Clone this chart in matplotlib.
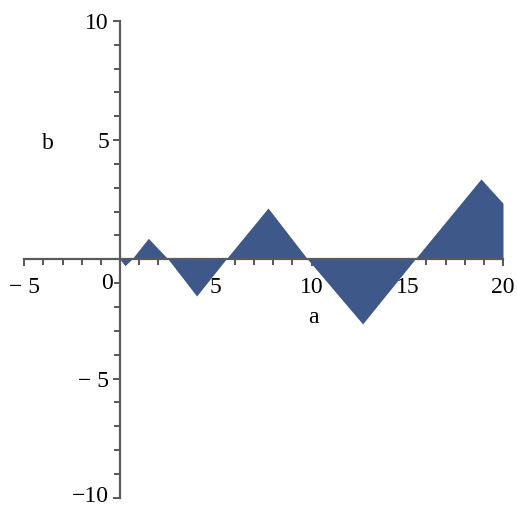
import matplotlib
matplotlib.use("Agg")
import matplotlib.pyplot as plt
import matplotlib.transforms as mtransforms
from matplotlib.ticker import MultipleLocator

# data: vertices of the shaded piecewise-linear curve
a_vals = [0.0, 0.26, 0.61, 1.48, 2.52, 4.0, 5.53, 7.73, 9.8, 12.67, 15.4, 18.85, 20.0]
b_vals = [0.0, -0.27, 0.0, 0.88, 0.0, -1.54, 0.0, 2.15, 0.0, -2.71, 0.0, 3.37, 2.35]

x_ticks = [-5, 5, 10, 15, 20]
x_tick_labels = ["\u2212 5", "5", "10", "15", "20"]
y_ticks = [-10, -5, 5, 10]
y_tick_labels = ["\u221210", "\u2212 5", "5", "10"]

plt.rcParams['font.family'] = ['Liberation Serif', 'DejaVu Serif']

W, H = 517, 508
fig = plt.figure(figsize=(W / 100, H / 100), dpi=100)
left = 24.25 / W
right = 503 / W
bottom = (H - 497.8) / H
top = (H - 20.8) / H
ax = fig.add_axes([left, bottom, right - left, top - bottom])
ax.set_xlim(-5, 20)
ax.set_ylim(-10, 10)

fill_col = '#3d5889'
ax.fill_between(a_vals, b_vals, 0, color=fill_col, linewidth=0, zorder=2)

for s in ['top', 'right']:
    ax.spines[s].set_visible(False)
ax.spines['left'].set_position(('data', 0))
ax.spines['bottom'].set_position(('data', 0))
for s in ['left', 'bottom']:
    ax.spines[s].set_color('#5a5a5a')
    ax.spines[s].set_linewidth(1.6)
    ax.spines[s].set_zorder(3)

fs = 17
ax.set_xticks(x_ticks)
ax.set_xticklabels(x_tick_labels)
ax.set_yticks(y_ticks)
ax.set_yticklabels(y_tick_labels)
ax.xaxis.set_minor_locator(MultipleLocator(1))
ax.yaxis.set_minor_locator(MultipleLocator(1))
ax.tick_params(axis='x', which='major', direction='out', length=5, width=1.2,
               color='#3a3a3a', labelsize=fs, pad=8)
ax.tick_params(axis='x', which='minor', direction='out', length=4, width=1.2,
               color='#3a3a3a')
ax.tick_params(axis='y', which='major', direction='out', length=5, width=1.2,
               color='#3a3a3a', labelsize=fs, pad=3)
ax.tick_params(axis='y', which='minor', direction='out', length=4, width=1.2,
               color='#3a3a3a')

# nudge the bottom label up a little so it stays inside the figure
for lab in ax.get_yticklabels():
    if lab.get_text() == y_tick_labels[0]:
        lab.set_transform(lab.get_transform() +
                          mtransforms.ScaledTranslation(0, 3 / 72, fig.dpi_scale_trans))

# origin label
ax.text(-0.68, -1.0, "0", fontsize=fs, ha='center', va='center')

# axis labels
ax.text(10.1, -2.45, "a", fontsize=fs, ha='center', va='center')
ax.text(-3.75, 4.85, "b", fontsize=fs, ha='center', va='center')

fig.savefig("out.png", dpi=100)
